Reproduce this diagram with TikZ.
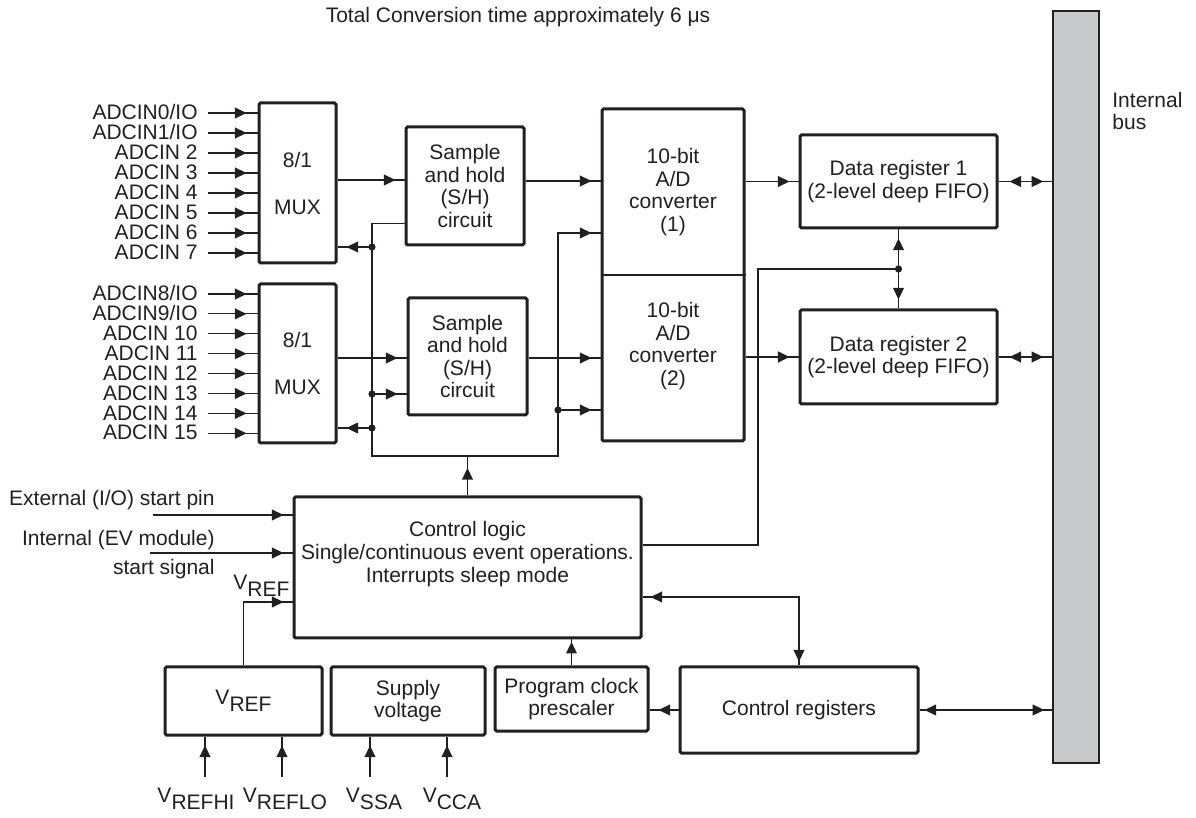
\documentclass[tikz,border=0pt]{standalone}
\usepackage{fontspec}
\setmainfont{Liberation Sans}
\usetikzlibrary{arrows.meta,decorations.markings,calc}
\definecolor{ink}{HTML}{231F20}
\definecolor{busgray}{HTML}{C8C9CB}
\newcommand{\vsub}[2]{#1\raisebox{-3.5pt}{#2}}

\begin{document}
\begin{tikzpicture}[
  x=0.5pt, y=-0.5pt,
  font=\fontsize{10.5}{11.3}\selectfont,
  sigtip/.tip={Triangle[length=5.8pt, width=5.4pt]},
  txt/.style={align=center, text=ink, inner sep=1pt},
  box/.style={draw=ink, line width=1.5pt, rounded corners=0.8pt, fill=white, align=center, text=ink},
  wire/.style={draw=ink, line width=0.6pt},
  sig/.style={wire, postaction={decorate}, decoration={markings, mark=at position -#1 with {\arrow{sigtip}}}},
  sig/.default=4.5pt,
  dsig/.style 2 args={wire, postaction={decorate}, decoration={markings,
      mark=at position #1 with {\arrowreversed{sigtip}}, mark=at position -#2 with {\arrow{sigtip}}}},
  pin/.style={anchor=east, text=ink, text height=1.5ex, text depth=0.25ex, inner sep=1.5pt},
]
\useasboundingbox (0,0) rectangle (1196,818);

% title and internal bus
\node[txt] (title) at (518,17) {Total Conversion time approximately 6~μs};
\node[draw=ink, line width=0.7pt, fill=busgray, minimum width=23pt, minimum height=376pt, inner sep=0pt] (bus) at (1076,387) {};
\node[txt, align=left, anchor=west] (buslbl) at (1110,111) {Internal\\bus};

% multiplexers with their analog inputs
\node[box, minimum width=38.5pt, minimum height=80pt] (mux1) at (297.5,183) {8/1\\[12.2pt]MUX};
\node[box, minimum width=38.5pt, minimum height=79.5pt] (mux2) at (297.5,363.5) {8/1\\[12.2pt]MUX};
\foreach \t [count=\i from 0] in {{ADCIN0/IO},{ADCIN1/IO},{ADCIN 2},{ADCIN 3},{ADCIN 4},{ADCIN 5},{ADCIN 6},{ADCIN 7}} {
  \node[pin] (in\i) at (201,{113+20*\i}) {\t};
  \draw[sig=5.5pt] ([xshift=3.5pt]in\i.east) -- (in\i -| mux1.west);
}
\foreach \t [count=\i from 8] in {{ADCIN8/IO},{ADCIN9/IO},{ADCIN 10},{ADCIN 11},{ADCIN 12},{ADCIN 13},{ADCIN 14},{ADCIN 15}} {
  \node[pin] (in\i) at (201,{294+19.9*(\i-8)}) {\t};
  \draw[sig=5.5pt] ([xshift=3.5pt]in\i.east) -- (in\i -| mux2.west);
}

% sample and hold, converters, data registers
\node[box, minimum width=59pt, minimum height=59pt] (sh1) at (465,186) {Sample\\and hold\\(S/H)\\circuit};
\node[box, minimum width=59.5pt, minimum height=58.5pt] (sh2) at (467.5,356.5) {Sample\\and hold\\(S/H)\\circuit};
\node[box, minimum width=71pt, minimum height=166pt] (adc) at (673,275) {};
\draw[wire] (adc.west) -- (adc.east);
\node[txt] (adc1) at (673,192) {10-bit\\A/D\\converter\\(1)};
\node[txt] (adc2) at (673,346) {10-bit\\A/D\\converter\\(2)};
\node[box, minimum width=98.5pt, minimum height=46.5pt] (dr1) at (898.5,181.5) {Data register 1\\(2-level deep FIFO)};
\node[box, minimum width=98.5pt, minimum height=47pt] (dr2) at (898.5,357) {Data register 2\\(2-level deep FIFO)};

\draw[sig] (mux1.east |- 0,180) -- (sh1.west |- 0,180);
\draw[sig] (mux2.east |- 0,358) -- (sh2.west |- 0,358);
\draw[sig] (sh1.east |- 0,181) -- (adc.west |- 0,181);
\draw[sig] (sh2.east |- 0,358) -- (adc.west |- 0,358);
\draw[sig] (adc.east |- dr1.west) -- (dr1.west);
\draw[sig, line width=1pt] (adc.east |- dr2.west) -- (dr2.west);

% control logic and its inputs
\node[box, minimum width=173.5pt, minimum height=70.5pt] (ctrl) at (467.5,567.5) {};
\node[txt] (ctrltxt) at (467.5,554) {Control logic\\Single/continuous event operations.\\Interrupts sleep mode};
\node[txt, anchor=east] (extlbl) at (217,500) {External (I/O) start pin};
\node[txt, anchor=east, align=right] (intlbl) at (217,554.5) {Internal (EV module)\\[3.3pt]start signal};
\node[txt, anchor=west] (vreflbl) at (231,586) {\vsub{V}{REF}};
\coordinate (extin) at (153,515);
\coordinate (intin) at (150,553);
\draw[sig] (extin) -- (extin -| ctrl.west);
\draw[sig] (intin) -- (intin -| ctrl.west);

% bottom row
\node[box, minimum width=78.5pt, minimum height=34pt] (vref) at (243.5,701) {\vsub{V}{REF}};
\node[box, minimum width=77pt, minimum height=34pt] (supply) at (408,701) {Supply\\voltage};
\node[box, minimum width=76.5pt, minimum height=32pt] (presc) at (571.5,699) {Program clock\\prescaler};
\node[box, minimum width=119pt, minimum height=43pt] (creg) at (799,710) {Control registers};
\draw[sig] (vref.north) |- ([yshift=-17.25pt]ctrl.west);
\foreach \n/\x/\b in {hi/205/vref, lo/282/vref, ssa/370/supply, cca/447/supply} {
  \coordinate (p\n) at (\x,777);
  \draw[sig] (p\n) -- (p\n |- \b.south);
}
\node[txt] (lhi) at (196,799) {\vsub{V}{REFHI}};
\node[txt] (llo) at (285,799) {\vsub{V}{REFLO}};
\node[txt] (lssa) at (374,799) {\vsub{V}{SSA}};
\node[txt] (lcca) at (452,799) {\vsub{V}{CCA}};

% control lines to mux, S/H and converters
\coordinate (j1) at (372,247);
\coordinate (j2) at (372,394);
\coordinate (j3) at (372,428);
\coordinate (jb) at (372,456);
\coordinate (jr) at (558,456);
\coordinate (j4) at (558,410);
\draw[sig] ([yshift=11.5pt]sh1.south west) -| (jb) -- (jr) |- (adc.west |- 0,233);
\draw[sig] (j1) -- (j1 -| mux1.east);
\draw[sig] (j2) -- (j2 -| sh2.west);
\draw[sig, line width=0.9pt] (j3) -- (j3 -| mux2.east);
\draw[sig] (j4) -- (j4 -| adc.west);
\draw[sig=6pt] (ctrl.north) -- (ctrl.north |- jb);

% data register links
\coordinate (jd) at ($(dr1.south)!0.5!(dr2.north)$);
\draw[sig] (jd) -- (dr1.south);
\draw[sig] (jd) -- (dr2.north);
\coordinate (jk) at (758,545);
\draw[wire] (jd) -| (jk) -- (jk -| ctrl.east);
\foreach \j in {j1,j2,j3,j4,jd} \fill[ink] (\j) circle[radius=1.8pt];
\draw[dsig={5.5pt}{4.5pt}] (dr1.east) -- (dr1.east -| bus.west);
\draw[dsig={5.5pt}{4.5pt}] (dr2.east) -- (dr2.east -| bus.west);

% control registers
\coordinate (jq) at (799,597);
\draw[dsig={4pt}{2pt}] (jq -| ctrl.east) -- (jq) -- (creg.north);
\draw[sig=1.2pt] (presc.north) -- (presc.north |- ctrl.south);
\draw[sig] (creg.west) -- (creg.west -| presc.east);
\draw[dsig={2.5pt}{4pt}] (creg.east) -- (creg.east -| bus.west);
\end{tikzpicture}
\end{document}
